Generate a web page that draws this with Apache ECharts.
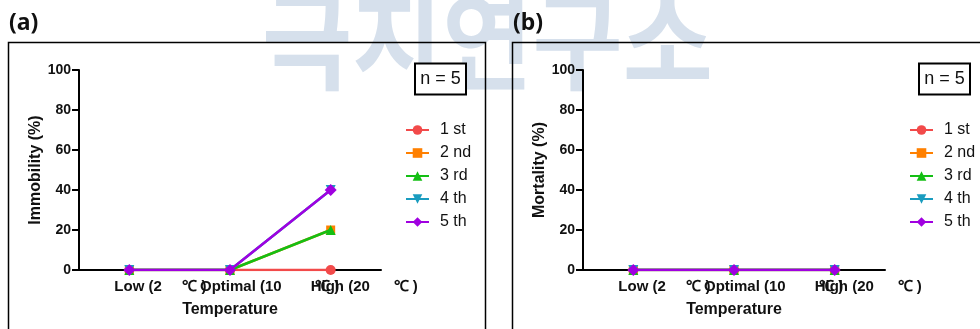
<!DOCTYPE html>
<html>
<head>
<meta charset="utf-8">
<style>
  html, body { margin: 0; padding: 0; background: #fff; }
  #chart { width: 980px; height: 329px; }
</style>
<script src="https://cdn.jsdelivr.net/npm/echarts@6/dist/echarts.min.js"></script>
</head>
<body>
<div id="chart"></div>
<script>
// Temperature groups on the x axis
const categories = ['Low (2 ℃ )', 'Optimal (10 ℃ )', 'High (20 ℃ )'];
// Exposure rounds
const rounds = ['1 st', '2 nd', '3 rd', '4 th', '5 th'];
// Panel (a): immobility (%) per round
const immobility1 = [0, 0, 0];
const immobility2 = [0, 0, 20];
const immobility3 = [0, 0, 20];
const immobility4 = [0, 0, 40];
const immobility5 = [0, 0, 40];
// Panel (b): mortality (%) per round
const mortality1 = [0, 0, 0];
const mortality2 = [0, 0, 0];
const mortality3 = [0, 0, 0];
const mortality4 = [0, 0, 0];
const mortality5 = [0, 0, 0];
const yTicks = [0, 20, 40, 60, 80, 100];

const colors = ['#f24a4a', '#ff8000', '#14bf14', '#1a9cbf', '#a000e0'];
const symbols = ['circle', 'rect', 'triangle',
  'path://M0,0 L10,0 L5,9 Z', 'diamond'];
const symbolSizes = [10, 9, 10, 10, 12];

const FONT = 'Liberation Sans';
const LABEL_FONT = 'bold 15px "' + FONT + '"';

// measure a string in the x-label font
const measureCtx = document.createElement('canvas').getContext('2d');
function textW(s) { measureCtx.font = LABEL_FONT; return measureCtx.measureText(s).width; }

// x label layout: where the text starts and where the unit sits, relative to the tick
const labelLead = [-15, -30, -20];
const unitAt = [53, 85, 63];

const rich = {
  t: { fontFamily: FONT, fontWeight: 'bold', fontSize: 15, color: '#111' }
};
function xLabel(value, idx) {
  const parts = value.split(' ℃');
  const head = parts[0], tail = '℃' + parts[1];
  const gap = Math.max(1, unitAt[idx] - labelLead[idx] - textW(head));
  const pad = labelLead[idx] + unitAt[idx] + textW(tail);
  rich['g' + idx] = { width: gap, height: 1 };
  rich['p' + idx] = { width: pad, height: 1 };
  return '{p' + idx + '|}{t|' + head + '}{g' + idx + '|}{t|' + tail + '}';
}
// pre-build rich styles before the option is handed over
categories.forEach((c, i) => xLabel(c, i));

const panels = [
  { left: 79, title: 'Immobility (%)', data: [immobility1, immobility2, immobility3, immobility4, immobility5] },
  { left: 583, title: 'Mortality (%)', data: [mortality1, mortality2, mortality3, mortality4, mortality5] }
];

const grid = [], xAxis = [], yAxis = [], series = [], legend = [];
panels.forEach((p, gi) => {
  grid.push({ left: p.left, top: 70, width: 302, height: 200 });
  xAxis.push({
    type: 'category', gridIndex: gi, data: categories, boundaryGap: true,
    axisLine: { lineStyle: { color: '#000', width: 2 } },
    axisTick: { show: true, alignWithLabel: true, length: 4, lineStyle: { color: '#000', width: 2 } },
    axisLabel: { margin: 9, interval: 0, formatter: xLabel, rich: rich },
    name: 'Temperature', nameLocation: 'middle', nameGap: 32,
    nameTextStyle: { fontFamily: FONT, fontWeight: 'bold', fontSize: 16, color: '#111' }
  });
  yAxis.push({
    type: 'value', gridIndex: gi, min: yTicks[0], max: yTicks[yTicks.length - 1], interval: 20,
    axisLine: { show: true, lineStyle: { color: '#000', width: 2 } },
    axisTick: { show: true, length: 7, lineStyle: { color: '#000', width: 2 } },
    axisLabel: { margin: 8, fontFamily: FONT, fontWeight: 'bold', fontSize: 14, color: '#111' },
    splitLine: { show: false },
    name: p.title, nameLocation: 'middle', nameGap: 35, nameRotate: 90,
    nameTextStyle: { fontFamily: FONT, fontWeight: 'bold', fontSize: 16, color: '#111' }
  });
  p.data.forEach((d, si) => {
    series.push({
      type: 'line', name: rounds[si], xAxisIndex: gi, yAxisIndex: gi, data: d,
      color: colors[si], symbol: symbols[si], symbolSize: symbolSizes[si],
      lineStyle: { width: 2.5, color: colors[si] }, itemStyle: { color: colors[si] },
      z: 3 + si, animation: false
    });
  });
  legend.push({
    orient: 'vertical', left: p.left + 321, top: 117,
    itemWidth: 23, itemHeight: 12, itemGap: 7,
    textStyle: { fontFamily: FONT, fontSize: 16, color: '#111', padding: [0, 0, 0, 6] },
    data: rounds, selectedMode: false
  });
});

const graphic = [
  // watermark
  { type: 'text', x: 262, y: 94, scaleY: 1.1, z: -10, silent: true,
    style: { text: '극지연구소', fontFamily: 'Noto Sans CJK KR', fontWeight: 'bold', fontSize: 98,
      fill: '#d6e0ec', verticalAlign: 'bottom' } },
  // panel frames
  { type: 'rect', shape: { x: 8.5, y: 42.5, width: 477, height: 300 }, style: { fill: 'none', stroke: '#000', lineWidth: 1.5 }, z: -5 },
  { type: 'rect', shape: { x: 512.5, y: 42.5, width: 477, height: 300 }, style: { fill: 'none', stroke: '#000', lineWidth: 1.5 }, z: -5 },
  // panel letters
  { type: 'text', x: 9, y: 12, style: { text: '(a)', fontFamily: 'Noto Sans', fontWeight: 'bold', fontSize: 23, fill: '#111' } },
  { type: 'text', x: 513, y: 12, style: { text: '(b)', fontFamily: 'Noto Sans', fontWeight: 'bold', fontSize: 23, fill: '#111' } }
];
[415, 919].forEach(x => {
  graphic.push({ type: 'rect', shape: { x: x, y: 63.5, width: 51, height: 31 }, style: { fill: '#fff', stroke: '#000', lineWidth: 2 } });
  graphic.push({ type: 'text', x: x + 25.5, y: 79, style: { text: 'n = 5', fontFamily: FONT, fontSize: 18, fill: '#111', align: 'center', verticalAlign: 'middle' } });
});

const chart = echarts.init(document.getElementById('chart'));
chart.setOption({
  animation: false,
  backgroundColor: '#fff',
  grid, xAxis, yAxis, series, legend, graphic
});
</script>
</body>
</html>
